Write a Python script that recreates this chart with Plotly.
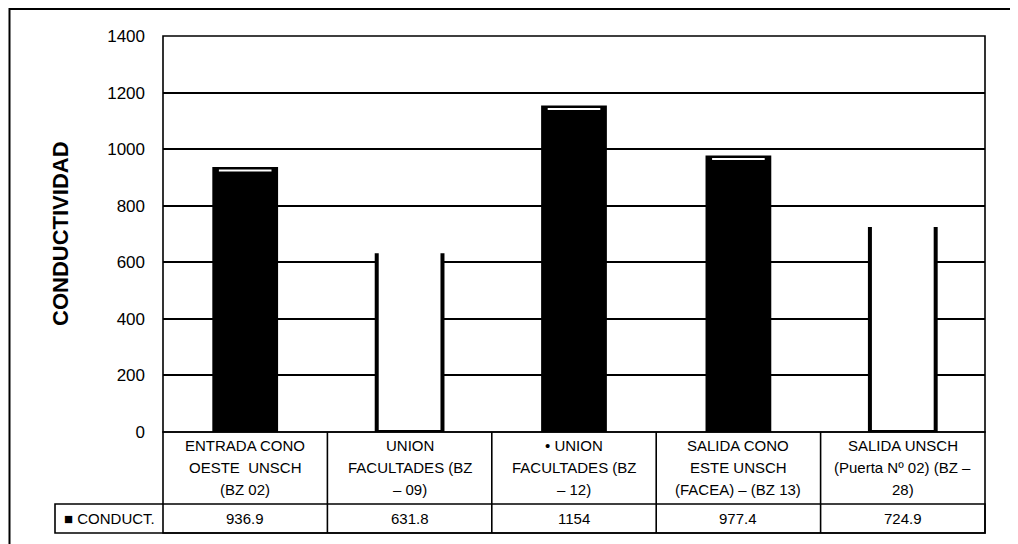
import plotly.graph_objects as go

# ---- data ----
categories = [
    "ENTRADA CONO<br>OESTE  UNSCH<br>(BZ 02)",
    "UNION<br>FACULTADES (BZ<br>– 09)",
    "• UNION<br>FACULTADES (BZ<br>– 12)",
    "SALIDA CONO<br>ESTE UNSCH<br>(FACEA) – (BZ 13)",
    "SALIDA UNSCH<br>(Puerta Nº 02) (BZ –<br>28)",
]
values = [936.9, 631.8, 1154, 977.4, 724.9]
value_labels = ["936.9", "631.8", "1154", "977.4", "724.9"]
series_name = "CONDUCT."
y_title = "CONDUCTIVIDAD"
y_ticks = [0, 200, 400, 600, 800, 1000, 1200, 1400]
bar_fill = ["black", "white", "black", "black", "white"]

# ---- layout geometry (window pixels; page body has an 8px margin) ----
OFF = 8
W, H = 1018 - OFF, 544 - OFF
L, R, T, B = 163, 985, 36, 432  # plot area in window pixels
FONT = "Liberation Sans, Arial, sans-serif"


def px_x(px):
    return (px - L) / (R - L)


def px_y(py):
    return (B - py) / (B - T)


xs = list(range(len(values)))
bw = 0.4

fig = go.Figure()
fig.add_trace(go.Bar(
    x=xs, y=values, width=bw, name=series_name,
    marker=dict(color=bar_fill, line=dict(width=0)),
    showlegend=False, hoverinfo="y",
))

# open-cylinder look for white bars: black sides and bottom
sx, sy = [], []
for i, (v, c) in enumerate(zip(values, bar_fill)):
    if c == "white":
        sx += [i - bw / 2, i - bw / 2, i + bw / 2, i + bw / 2, None]
        sy += [v, 0, 0, v, None]
fig.add_trace(go.Scatter(x=sx, y=sy, mode="lines",
                         line=dict(color="black", width=4),
                         showlegend=False, hoverinfo="skip"))

# white cap highlight on black bars
cx, cy = [], []
for i, (v, c) in enumerate(zip(values, bar_fill)):
    if c == "black":
        cx += [i - bw / 2 + 0.04, i + bw / 2 - 0.04, None]
        cy += [v - 12, v - 12, None]
fig.add_trace(go.Scatter(x=cx, y=cy, mode="lines",
                         line=dict(color="white", width=2),
                         showlegend=False, hoverinfo="skip"))

shapes = []
lw = 1.6
# outer frame
shapes.append(dict(type="rect", xref="paper", yref="paper",
                   x0=px_x(9.5), x1=px_x(1015), y0=px_y(560), y1=px_y(9),
                   line=dict(color="black", width=2)))
# plot border (left, top, right)
shapes.append(dict(type="rect", xref="paper", yref="paper",
                   x0=0, x1=1, y0=0, y1=1, line=dict(color="black", width=lw)))
# data table
row1_bot = px_y(504)
row2_bot = px_y(533)
shapes.append(dict(type="rect", xref="paper", yref="paper",
                   x0=0, x1=1, y0=row2_bot, y1=0, line=dict(color="black", width=lw)))
shapes.append(dict(type="rect", xref="paper", yref="paper",
                   x0=px_x(55), x1=1, y0=row2_bot, y1=row1_bot,
                   line=dict(color="black", width=lw)))
for i in range(1, len(values)):
    shapes.append(dict(type="line", xref="x", yref="paper",
                       x0=i - 0.5, x1=i - 0.5, y0=row2_bot, y1=0,
                       line=dict(color="black", width=lw)))

annotations = []
line_y = [445, 467, 489]
for i, (cat, lab) in enumerate(zip(categories, value_labels)):
    for k, part in enumerate(cat.split("<br>")):
        annotations.append(dict(x=i, y=px_y(line_y[k]), xref="x", yref="paper",
                                text=part, showarrow=False, xanchor="center",
                                yanchor="middle",
                                font=dict(family=FONT, size=15, color="black")))
    annotations.append(dict(x=i, y=px_y(518.5), xref="x", yref="paper",
                            text=lab, showarrow=False, xanchor="center", yanchor="middle",
                            font=dict(family=FONT, size=15, color="black")))
annotations.append(dict(x=px_x(109), y=px_y(518.5), xref="paper", yref="paper",
                        text="■ " + series_name, showarrow=False, xanchor="center",
                        yanchor="middle", font=dict(family=FONT, size=15, color="black")))
annotations.append(dict(x=px_x(60), y=px_y(233), xref="paper", yref="paper",
                        text="<b>" + y_title + "</b>", showarrow=False, textangle=-90,
                        xanchor="center", yanchor="middle",
                        font=dict(family=FONT, size=22, color="black")))

fig.update_layout(
    width=W, height=H,
    margin=dict(l=L - OFF, r=(W + OFF) - R, t=T - OFF, b=(H + OFF) - B),
    paper_bgcolor="white", plot_bgcolor="white",
    shapes=shapes, annotations=annotations,
    xaxis=dict(range=[-0.5, len(values) - 0.5], showticklabels=False,
               showgrid=False, zeroline=False, showline=False, fixedrange=True),
    yaxis=dict(range=[0, 1400], tickvals=y_ticks, showgrid=True,
               gridcolor="black", gridwidth=lw, zeroline=False, showline=False,
               ticks="", ticklabelstandoff=17,
               tickfont=dict(family=FONT, size=17, color="black"), fixedrange=True),
    font=dict(family=FONT, color="black"),
)

fig.write_html("out.html")
